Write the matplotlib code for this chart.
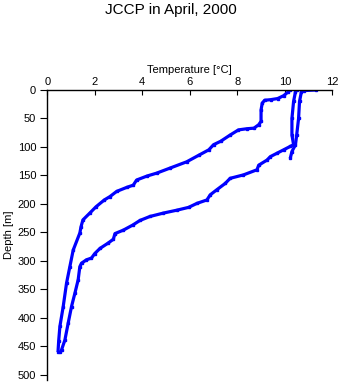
import numpy as np
import matplotlib
matplotlib.use('Agg')
import matplotlib.pyplot as plt

plt.rcParams['font.family'] = ['Liberation Sans', 'DejaVu Sans']

# profile A (colder one)
depth_a = [0, 3, 10, 15, 17, 18, 23, 35, 55, 61, 67, 68, 70, 79, 90, 96, 105, 114, 126,
           137, 146, 151, 158, 167, 171, 178, 187, 193, 205, 216, 228, 240, 251, 281,
           310, 339, 380, 415, 440, 460]
temp_a = [10.2, 10.15, 9.95, 9.7, 9.4, 9.15, 9.05, 9.0, 9.0, 8.9, 8.7, 8.4, 8.05, 7.7, 7.3,
          7.0, 6.8, 6.4, 5.87, 5.17, 4.6, 4.2, 3.76, 3.62, 3.34, 2.92, 2.64, 2.4, 2.05,
          1.79, 1.5, 1.42, 1.37, 1.09, 0.95, 0.81, 0.67, 0.53, 0.48, 0.45]

# profile B
depth_b = [0, 3, 20, 50, 79, 96, 99, 105, 111, 117, 123, 132, 140, 149, 155, 164, 175,
           184, 193, 199, 206, 211, 216, 222, 229, 237, 246, 252, 262, 269, 278, 287,
           295, 298, 304, 310, 333, 357, 380, 409, 439, 456, 460]
temp_b = [10.5, 10.45, 10.37, 10.3, 10.3, 10.37, 10.23, 9.95, 9.67, 9.39, 9.25, 8.9, 8.83,
          8.26, 7.7, 7.49, 7.14, 6.86, 6.72, 6.3, 5.95, 5.45, 4.89, 4.32, 3.9, 3.6, 3.2,
          2.85, 2.78, 2.55, 2.22, 2.0, 1.86, 1.65, 1.44, 1.37, 1.3, 1.16, 1.02, 0.88,
          0.74, 0.6, 0.55]

# short cast, surface to ~120 m
depth_c = [0, 1, 3, 20, 50, 79, 96, 108, 120]
temp_c = [11.3, 10.8, 10.7, 10.62, 10.58, 10.5, 10.45, 10.3, 10.23]

xticks = [0, 2, 4, 6, 8, 10, 12]
yticks = [0, 50, 100, 150, 200, 250, 300, 350, 400, 450, 500]

W, H = 341, 384
fig = plt.figure(figsize=(W / 100, H / 100), dpi=100)
ax = fig.add_axes([47.3 / W, 4 / H, 285 / W, 290 / H])

for t, d in [(temp_a, depth_a), (temp_b, depth_b), (temp_c, depth_c)]:
    ax.plot(t, d, color='#0000ff', lw=2.3, marker='s', ms=2, solid_capstyle='butt')

ax.set_xlim(0, 12)
ax.set_ylim(509, 0)
ax.xaxis.tick_top()
ax.xaxis.set_label_position('top')
ax.set_xticks(xticks)
ax.set_yticks(yticks)
ax.tick_params(axis='x', direction='in', length=3.5, labelsize=8, pad=2.5)
ax.tick_params(axis='y', direction='out', length=5, labelsize=8, pad=3)
ax.spines['right'].set_visible(False)
ax.spines['bottom'].set_visible(False)
ax.spines['top'].set_linewidth(1)
ax.spines['left'].set_linewidth(1)
ax.set_xlabel('Temperature [°C]', fontsize=8, labelpad=2.5)
ax.set_ylabel('Depth [m]', fontsize=8, labelpad=3)

fig.text(0.5, 1 - 10 / H, 'JCCP in April, 2000', ha='center', va='center', fontsize=11)

fig.savefig('out.png', dpi=100)
